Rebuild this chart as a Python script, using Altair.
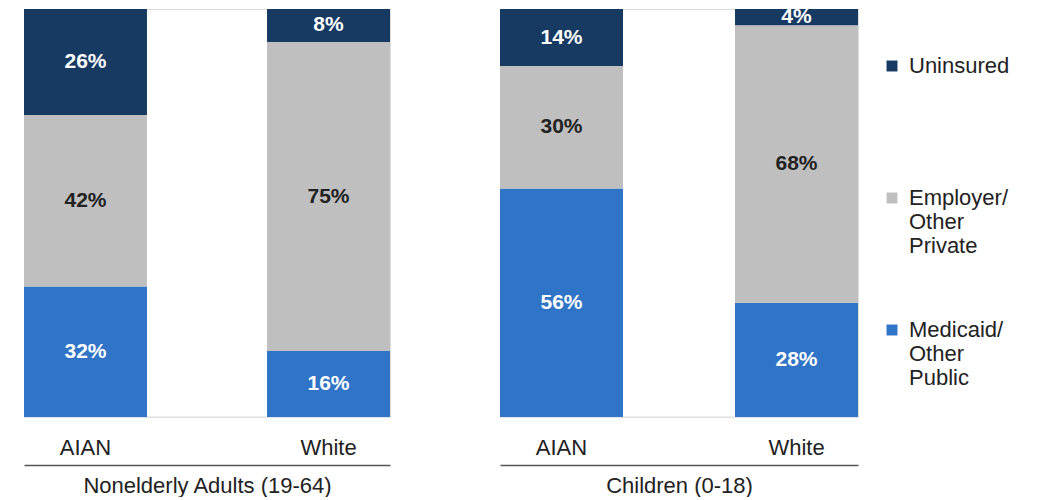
import altair as alt
import pandas as pd

groups = ["Nonelderly Adults (19-64)", "Children (0-18)"]
races = ["AIAN", "White"]
coverage = ["Medicaid/ Other Public", "Employer/ Other Private", "Uninsured"]
medicaid = [32, 16, 56, 28]
employer = [42, 75, 30, 68]
uninsured = [26, 8, 14, 4]
colors = ["#2f74c6", "#bfbfbf", "#173a63"]

rows = []
i = 0
for g in groups:
    for r in races:
        for k, (cov, vals) in enumerate(zip(coverage, [medicaid, employer, uninsured])):
            rows.append({"group": g, "race": r, "coverage": cov, "order": k,
                         "value": vals[i], "label": f"{vals[i]}%"})
        i += 1
df = pd.DataFrame(rows)
baseline = pd.DataFrame({"b": [0]})

FONT = "Liberation Sans"
FS = 22
y_scale = alt.Scale(domain=[0, 1])


def panel(g, width, pad_inner):
    base = (
        alt.Chart(df)
        .transform_filter(alt.datum.group == g)
        .transform_stack(stack="value", groupby=["race"], as_=["v0", "v1"],
                         offset="normalize", sort=[alt.SortField("order", "ascending")])
        .transform_calculate(mid="(datum.v0 + datum.v1) / 2")
    )
    x = alt.X(
        "race:N", sort=races,
        scale=alt.Scale(paddingInner=pad_inner, paddingOuter=0),
        axis=alt.Axis(title=g, orient="bottom", labelAngle=0, ticks=False,
                      domainColor="#555555", domainWidth=1.5, offset=48,
                      labelPadding=-18, labelBaseline="middle", labelFontSize=FS,
                      labelColor="#222222", labelFont=FONT, titleFont=FONT,
                      titleFontSize=FS, titleFontWeight="normal", titleColor="#222222",
                      titlePadding=10, grid=False),
    )
    rule = alt.Chart(baseline).mark_rule(color="#e6e6e6", strokeWidth=1.5).encode(
        y=alt.Y("b:Q", scale=y_scale, axis=None)
    )
    bars = base.mark_bar().encode(
        x=x,
        y=alt.Y("v0:Q", scale=y_scale, axis=None),
        y2="v1:Q",
        color=alt.Color(
            "coverage:N",
            scale=alt.Scale(domain=coverage[::-1], range=colors[::-1]),
            legend=alt.Legend(
                title=None, orient="none", legendX=857, legendY=46,
                symbolType="square", symbolSize=120, symbolStrokeWidth=0,
                labelFontSize=FS, labelColor="#222222", labelFont=FONT,
                labelExpr="split(datum.label, ' ')", labelBaseline="middle",
                labelOffset=6, rowPadding=62, labelLimit=200, gridAlign="all",
            ),
        ),
    )
    text = base.mark_text(fontSize=21, fontWeight="bold", font=FONT).encode(
        x=alt.X("race:N", sort=races),
        y=alt.Y("mid:Q", scale=y_scale, axis=None),
        text="label:N",
        color=alt.condition(alt.datum.order == 1, alt.value("#222222"), alt.value("#ffffff")),
    )
    return alt.layer(rule, bars, text).properties(width=width, height=408)


chart = (
    alt.hconcat(panel(groups[0], 366, 0.494), panel(groups[1], 358, 0.4766), spacing=106)
    .properties(padding={"left": 22, "top": 5, "right": 0, "bottom": 0})
    .configure_view(stroke=None)
    .configure(font=FONT)
)

chart.save("out.html", embed_options={"renderer": "svg", "actions": False})
